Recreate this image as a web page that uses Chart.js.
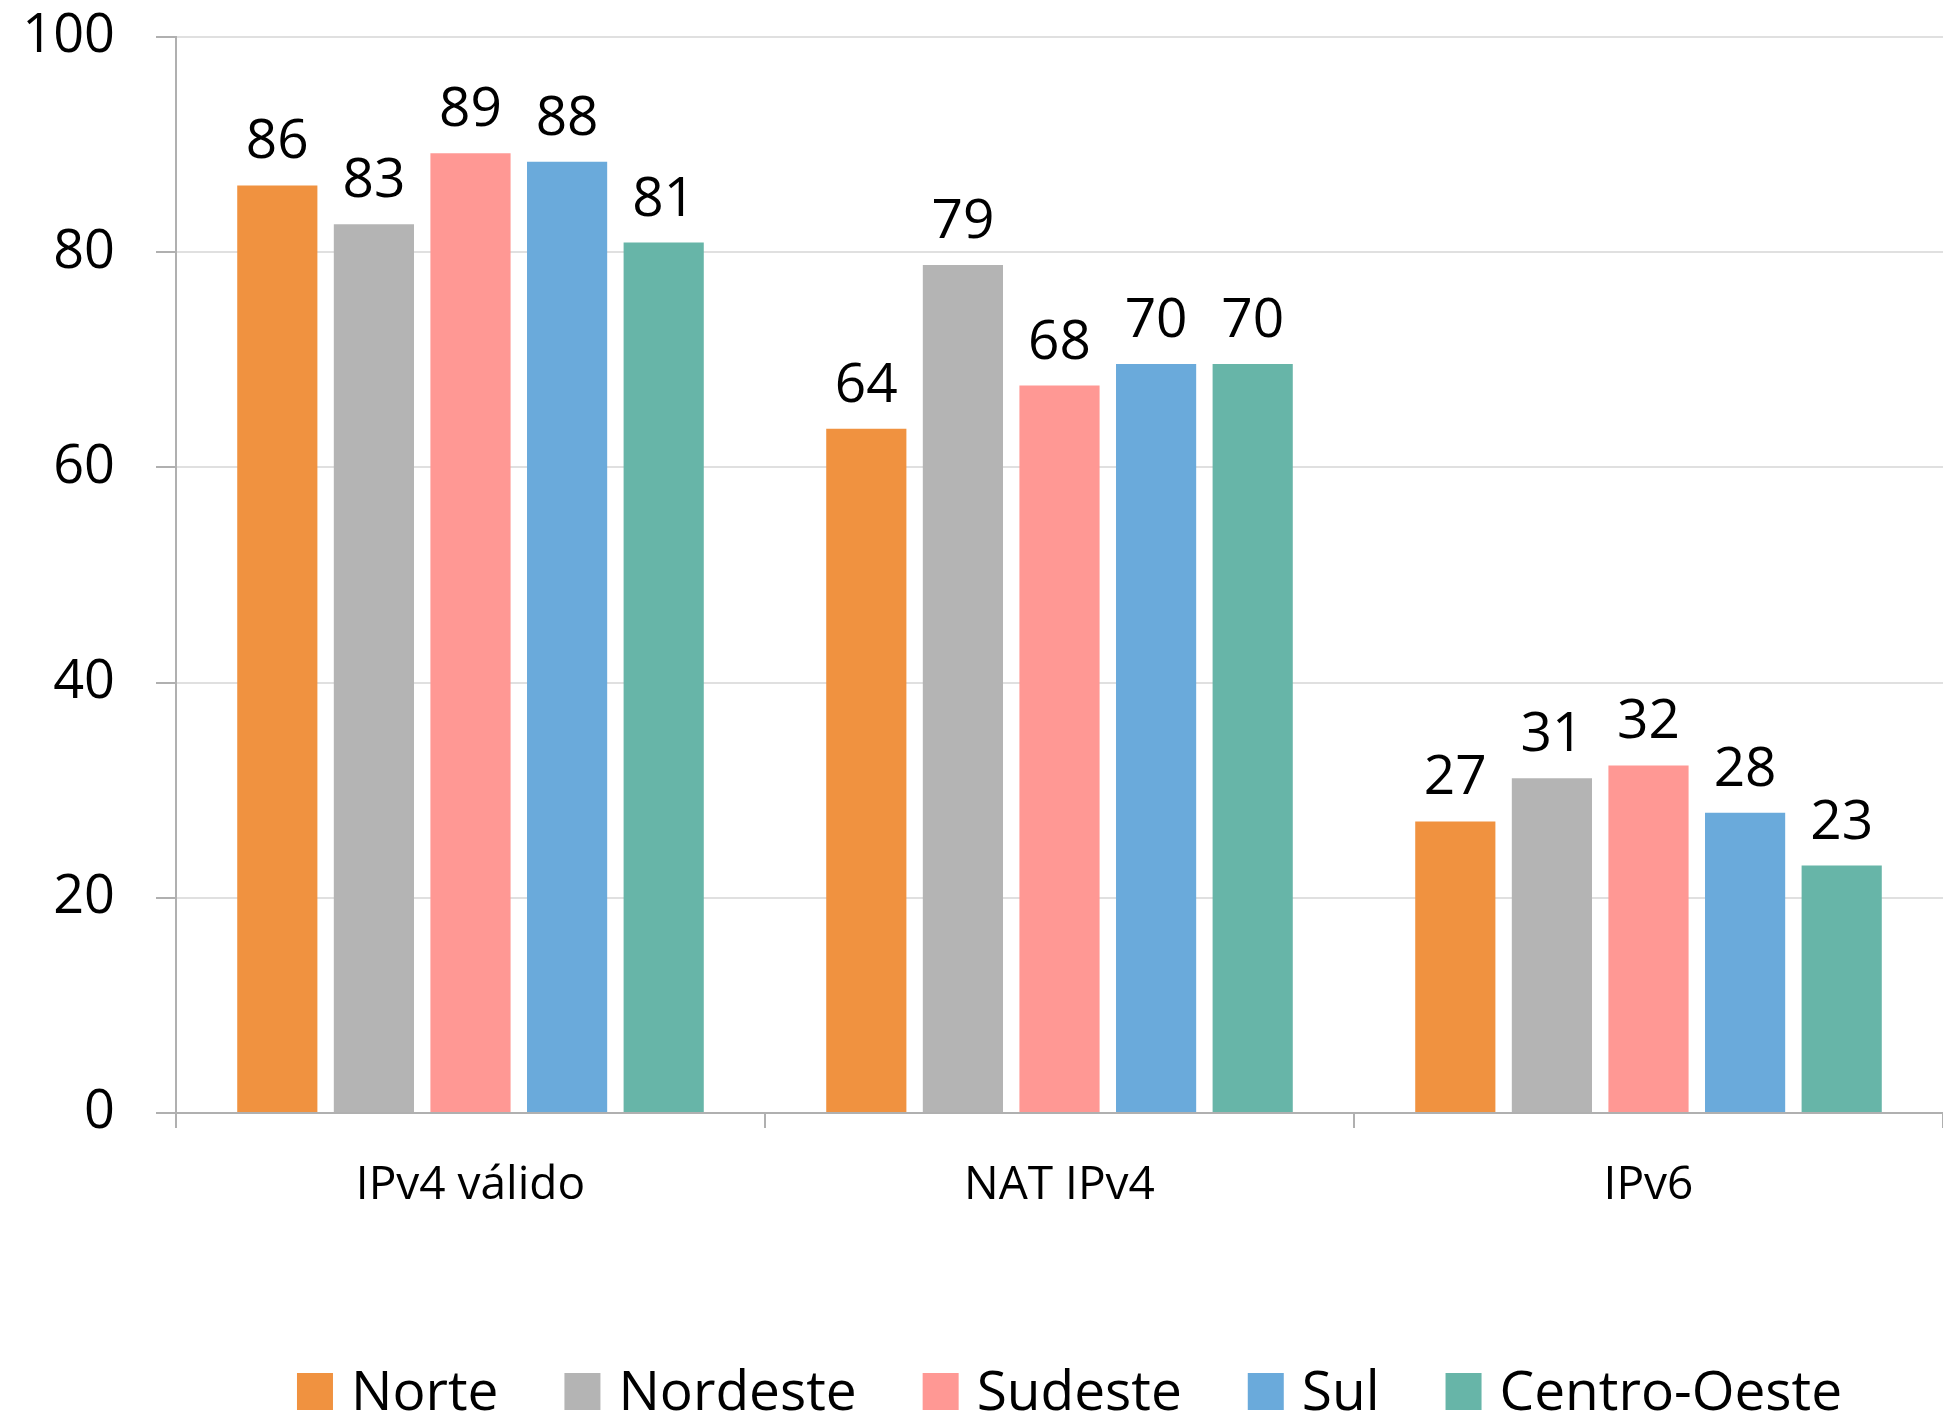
<!DOCTYPE html>
<html>
<head>
<meta charset="utf-8">
<script src="https://cdn.jsdelivr.net/npm/chart.js@4"></script>
<style>
  body { margin: 0; background: #fff; }
  #wrap { width: 1943px; height: 1423px; position: relative; }
</style>
</head>
<body>
<div id="wrap"><canvas id="chart"></canvas></div>
<script>
// categories and series values
const categories = ['IPv4 válido', 'NAT IPv4', 'IPv6'];
const regions = ['Norte', 'Nordeste', 'Sudeste', 'Sul', 'Centro-Oeste'];
const norte = [86.2, 63.6, 27.1];
const nordeste = [82.6, 78.8, 31.1];
const sudeste = [89.2, 67.6, 32.3];
const sul = [88.4, 69.6, 27.9];
const centroOeste = [80.9, 69.6, 23.0];
const yTicks = [0, 20, 40, 60, 80, 100];

const colors = ['#f09240', '#b4b4b4', '#ff9894', '#6aaadb', '#67b5a8'];
const FONT = "'Open Sans', sans-serif";

// value labels above every bar
const valueLabels = {
    id: 'valueLabels',
    afterDatasetsDraw(chart) {
        const ctx = chart.ctx;
        ctx.save();
        ctx.fillStyle = '#000';
        ctx.font = '55px ' + FONT;
        ctx.textAlign = 'center';
        ctx.textBaseline = 'alphabetic';
        chart.data.datasets.forEach((ds, i) => {
            chart.getDatasetMeta(i).data.forEach((bar, j) => {
                ctx.fillText(Math.round(ds.data[j]), bar.x, bar.y - 27);
            });
        });
        ctx.restore();
    }
};

// legend at the bottom, centred under the plot area
const bottomLegend = {
    id: 'bottomLegend',
    afterDraw(chart) {
        const ctx = chart.ctx;
        const area = chart.chartArea;
        ctx.save();
        ctx.font = '55px ' + FONT;
        const box = 36, gap = 18, itemGap = 66;
        const widths = chart.data.datasets.map(ds => box + gap + ctx.measureText(ds.label).width);
        const total = widths.reduce((a, w) => a + w, 0) + itemGap * (widths.length - 1);
        let x = (area.left + area.right) / 2 - total / 2 + 10;
        const y = 1391;
        chart.data.datasets.forEach((ds, i) => {
            ctx.fillStyle = ds.backgroundColor;
            ctx.fillRect(x, y - 18, box, 37);
            ctx.fillStyle = '#000';
            ctx.textBaseline = 'middle';
            ctx.fillText(ds.label, x + box + gap, y + 3);
            x += widths[i] + itemGap;
        });
        ctx.restore();
    }
};

const series = [norte, nordeste, sudeste, sul, centroOeste];

new Chart(document.getElementById('chart').getContext('2d'), {
    type: 'bar',
    data: {
        labels: categories,
        datasets: regions.map((r, i) => ({
            label: r,
            data: series[i],
            backgroundColor: colors[i],
            categoryPercentage: 0.82,
            barPercentage: 0.83
        }))
    },
    options: {
        responsive: true,
        maintainAspectRatio: false,
        animation: false,
        layout: { padding: { top: 37, left: 22, right: 0, bottom: 0 } },
        plugins: {
            legend: { display: false },
            tooltip: { enabled: false }
        },
        scales: {
            x: {
                grid: {
                    offset: true,
                    drawOnChartArea: false,
                    tickLength: 15,
                    color: '#b0b0b0',
                    lineWidth: 2
                },
                border: { color: '#b0b0b0', width: 2 },
                ticks: {
                    color: '#000',
                    font: { family: FONT, size: 46 },
                    padding: 30
                },
                afterFit: s => { s.height = 310; }
            },
            y: {
                min: 0,
                max: 100,
                afterBuildTicks: s => { s.ticks = yTicks.map(v => ({ value: v })); },
                grid: { color: '#e0e0e0', lineWidth: 2, tickLength: 20, tickColor: '#b0b0b0' },
                border: { color: '#b0b0b0', width: 2 },
                ticks: {
                    color: '#000',
                    font: { family: FONT, size: 54 },
                    padding: 41
                },
                afterFit: s => { s.width = 154; s.paddingTop = 0; }
            }
        }
    },
    plugins: [valueLabels, bottomLegend]
});
</script>
</body>
</html>
